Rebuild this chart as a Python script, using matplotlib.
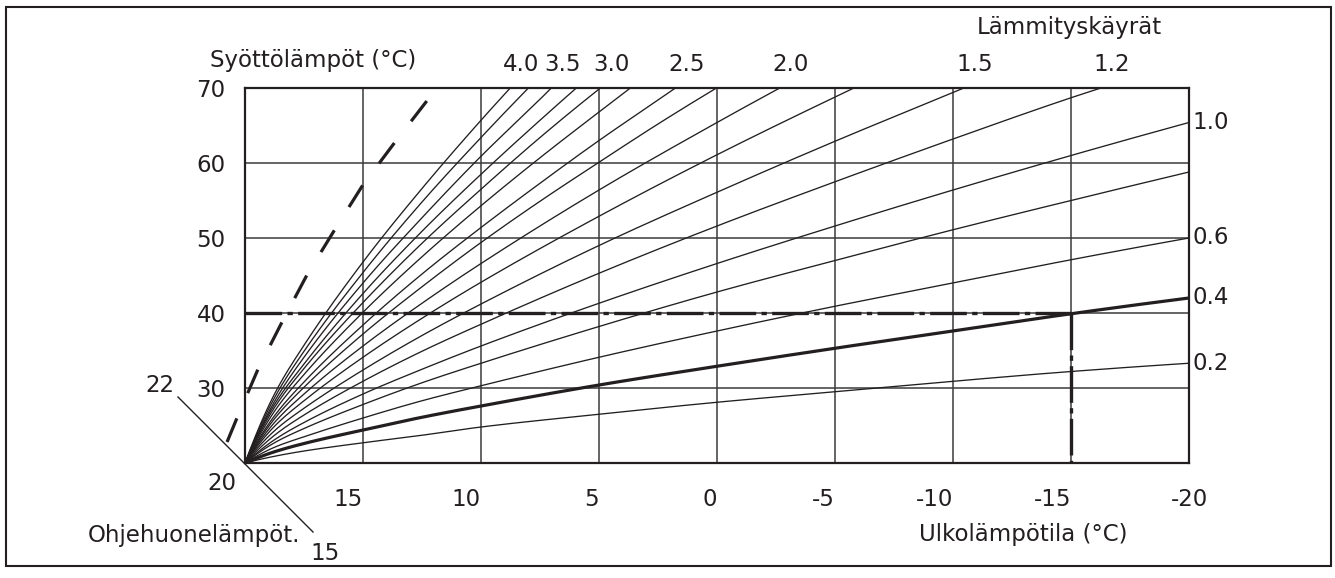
import numpy as np
import matplotlib
matplotlib.use("Agg")
import matplotlib.pyplot as plt
from matplotlib.lines import Line2D
from matplotlib.patches import Rectangle
from matplotlib.transforms import ScaledTranslation

plt.rcParams['font.family'] = ['DejaVu Sans']

# ---------------- data ----------------
x_ticks = [15, 10, 5, 0, -5, -10, -15, -20]
y_ticks = [30, 40, 50, 60, 70]

curve_labels = ["4.0", "", "3.5", "", "3.0", "", "2.5", "", "2.0", "",
                "1.5", "1.2", "1.0", "", "0.6", "0.4", "0.2"]
curve_x = [
    [20, 18.75, 17.5, 15, 12.5, 10, 8.76],
    [20, 18.75, 17.5, 15, 12.5, 10, 7.99],
    [20, 18.75, 17.5, 15, 12.5, 10, 7.5, 7.02],
    [20, 18.75, 17.5, 15, 12.5, 10, 7.5, 5.96],
    [20, 18.75, 17.5, 15, 12.5, 10, 7.5, 4.94],
    [20, 18.75, 17.5, 15, 12.5, 10, 7.5, 5, 3.67],
    [20, 18.75, 17.5, 15, 12.5, 10, 7.5, 5, 2.5, 1.76],
    [20, 18.75, 17.5, 15, 12.5, 10, 7.5, 5, 2.5, 0.02],
    [20, 18.75, 17.5, 15, 12.5, 10, 5, 0, -2.66],
    [20, 18.75, 17.5, 15, 12.5, 10, 5, 0, -5, -5.8],
    [20, 18.75, 17.5, 15, 12.5, 10, 5, 0, -5, -10, -10.46],
    [20, 18.75, 17.5, 15, 12.5, 10, 5, 0, -5, -10, -15, -16.27],
    [20, 18.75, 17.5, 15, 12.5, 10, 5, 0, -5, -10, -15, -20],
    [20, 18.75, 17.5, 15, 12.5, 10, 5, 0, -5, -10, -15, -20],
    [20, 18.75, 17.5, 15, 12.5, 10, 5, 0, -5, -10, -15, -20],
    [20, 18.75, 17.5, 15, 12.5, 10, 5, 0, -5, -10, -15, -20],
    [20, 18.75, 17.5, 15, 12.5, 10, 5, 0, -5, -10, -15, -20],
]
curve_y = [
    [20, 29.2, 35.7, 46.8, 56.6, 65.7, 70],
    [20, 28.7, 34.9, 45.4, 54.8, 63.4, 70],
    [20, 28.2, 34.1, 44.0, 52.7, 60.9, 68.5, 70],
    [20, 27.8, 33.2, 42.6, 50.9, 58.5, 65.7, 70],
    [20, 27.4, 32.6, 41.4, 49.3, 56.5, 63.4, 70],
    [20, 26.9, 31.8, 40.1, 47.5, 54.3, 60.7, 66.8, 70],
    [20, 26.3, 30.8, 38.4, 45.2, 51.4, 57.3, 63.0, 68.4, 70],
    [20, 25.9, 30.1, 37.2, 43.5, 49.4, 54.9, 60.1, 65.2, 70],
    [20, 25.4, 29.2, 35.6, 41.3, 46.6, 56.4, 65.4, 70],
    [20, 24.9, 28.3, 34.1, 39.3, 44.1, 52.9, 61.1, 68.8, 70],
    [20, 24.3, 27.3, 32.4, 37.0, 41.2, 49.0, 56.1, 62.9, 69.4, 70],
    [20, 23.7, 26.4, 30.9, 34.9, 38.5, 45.3, 51.6, 57.5, 63.2, 68.7, 70],
    [20, 23.1, 25.4, 29.2, 32.5, 35.6, 41.3, 46.6, 51.6, 56.4, 61.0, 65.4],
    [20, 22.7, 24.6, 27.8, 30.7, 33.3, 38.2, 42.8, 47.0, 51.1, 55.0, 58.8],
    [20, 22.1, 23.5, 26.0, 28.3, 30.3, 34.1, 37.6, 40.9, 44.0, 47.1, 50.0],
    [20, 21.5, 22.6, 24.4, 26.1, 27.6, 30.4, 32.9, 35.3, 37.6, 39.9, 42.0],
    [20, 20.9, 21.6, 22.7, 23.7, 24.8, 26.5, 28.1, 29.5, 30.9, 32.2, 33.3],
]
thick_curve = "0.4"

example_outdoor = -15
example_flow = 40

dashed_x = [20.76, 20.34, 19.45, 18.43, 17.37, 16.18, 15.0, 13.64, 12.24]
dashed_y = [22.8, 26.0, 32.5, 38.8, 45.1, 51.2, 57.1, 62.8, 68.5]

room_labels = ["22", "20", "15"]


# ---------------- helpers ----------------
def smooth(xs, ys, n=300):
    """Monotone cubic (PCHIP) drawing path through the read points."""
    t = 20.0 - np.asarray(xs, float)          # ascending
    y = np.asarray(ys, float)
    h = np.diff(t)
    d = np.diff(y) / h
    m = np.zeros_like(y)
    for k in range(1, len(y) - 1):
        if d[k - 1] * d[k] > 0:
            w1 = 2 * h[k] + h[k - 1]
            w2 = h[k] + 2 * h[k - 1]
            m[k] = (w1 + w2) / (w1 / d[k - 1] + w2 / d[k])
    def end(h0, h1, d0, d1):
        v = ((2 * h0 + h1) * d0 - h0 * d1) / (h0 + h1)
        if np.sign(v) != np.sign(d0):
            v = 0.0
        elif np.sign(d0) != np.sign(d1) and abs(v) > abs(3 * d0):
            v = 3 * d0
        return v
    m[0] = end(h[0], h[1], d[0], d[1])
    m[-1] = end(h[-1], h[-2], d[-1], d[-2])
    tt = np.linspace(t[0], t[-1], n)
    idx = np.clip(np.searchsorted(t, tt) - 1, 0, len(h) - 1)
    s = (tt - t[idx]) / h[idx]
    h00 = 2 * s**3 - 3 * s**2 + 1
    h10 = s**3 - 2 * s**2 + s
    h01 = -2 * s**3 + 3 * s**2
    h11 = s**3 - s**2
    yy = h00 * y[idx] + h10 * h[idx] * m[idx] + h01 * y[idx + 1] + h11 * h[idx] * m[idx + 1]
    return 20.0 - tt, yy


# ---------------- figure ----------------
W, H = 1335, 578
INK = '#231f20'
GRID = '#3c3a3b'
FS = 16.5

fig = plt.figure(figsize=(W / 100, H / 100), dpi=100)
fig.patch.set_facecolor('white')
fig.add_artist(Rectangle((6 / W, 1 - 566 / H), (1331 - 6) / W, (566 - 7) / H,
                         transform=fig.transFigure, fill=False,
                         edgecolor=INK, lw=1.5))

ax = fig.add_axes([245 / W, 1 - 463 / H, 944 / W, 375 / H])
ax.set_xlim(20, -20)
ax.set_ylim(20, 70)
for s in ax.spines.values():
    s.set_linewidth(1.6)
    s.set_color(INK)
    s.set_zorder(6)

for xv in x_ticks[:-1]:
    ax.axvline(xv, color=GRID, lw=1.1, zorder=1)
for yv in y_ticks[:-1]:
    ax.axhline(yv, color=GRID, lw=1.1, zorder=1)

ax.set_xticks(x_ticks)
ax.set_yticks(y_ticks)
ax.set_xticklabels([str(v) for v in x_ticks])
ax.set_yticklabels([str(v) for v in y_ticks])
ax.tick_params(length=0, labelsize=FS, colors=INK)
ax.tick_params(axis='x', pad=18)
ax.tick_params(axis='y', pad=14)
xtl = ax.get_xticklabels()
for t in xtl[:-1]:
    t.set_ha('right')
xtl[-1].set_ha('center')

# heating curves
for lab, xs, ys in zip(curve_labels, curve_x, curve_y):
    lw = 2.3 if lab == thick_curve else 0.95
    sx, sy = smooth(xs, ys)
    ax.plot(sx, sy, color=INK, lw=lw, zorder=3, solid_capstyle='butt')
    if not lab:
        continue
    if ys[-1] >= 70:
        ax.annotate(lab, xy=(xs[-1], 70), xytext=(8, 12.5), textcoords='offset points',
                    ha='center', va='baseline', fontsize=FS, color=INK,
                    annotation_clip=False)
    else:
        ax.annotate(lab, xy=(xs[-1], ys[-1]), xytext=(2.5, 0), textcoords='offset points',
                    ha='left', va='center', fontsize=FS, color=INK,
                    annotation_clip=False)

# worked example (dash-dot)
dd = (0, (11, 1.6, 1.6, 1.6))
ax.plot([20, example_outdoor], [example_flow, example_flow], color=INK, lw=2.4,
        ls=dd, zorder=4, clip_on=False)
ax.plot([example_outdoor, example_outdoor], [example_flow, 20], color=INK, lw=2.4,
        ls=dd, zorder=4, clip_on=False)

# dashed curve
ax.plot(dashed_x, dashed_y, color=INK, lw=2.3, ls=(0, (8.0, 8.6)),
        zorder=4, clip_on=False)

# room temperature diagonal scale at origin
trans = fig.dpi_scale_trans + ScaledTranslation(20, 20, ax.transData)
fig.add_artist(Line2D([-0.67, 0.68], [0.66, -0.69], transform=trans,
                      color=INK, lw=1.0))
room_offsets = [(-61, 51), (-17, -19.5), (58, -70)]
for lab, off in zip(room_labels, room_offsets):
    ax.annotate(lab, xy=(20, 20), xytext=off, textcoords='offset points',
                ha='center', va='baseline', fontsize=FS, color=INK,
                annotation_clip=False)
ax.annotate("Ohjehuonelämpöt.", xy=(20, 20), xytext=(40, -57), textcoords='offset points',
            ha='right', va='baseline', fontsize=FS, color=INK, annotation_clip=False)

# titles
fig.text(313 / W, 1 - 67 / H, "Syöttölämpöt (°C)", ha='center', va='baseline',
         fontsize=FS, color=INK)
fig.text(1069 / W, 1 - 34 / H, "Lämmityskäyrät", ha='center', va='baseline',
         fontsize=FS, color=INK)
fig.text(1023 / W, 1 - 541.5 / H, "Ulkolämpötila (°C)", ha='center', va='baseline',
         fontsize=FS, color=INK)

fig.savefig("out.png", dpi=100, facecolor='white')
